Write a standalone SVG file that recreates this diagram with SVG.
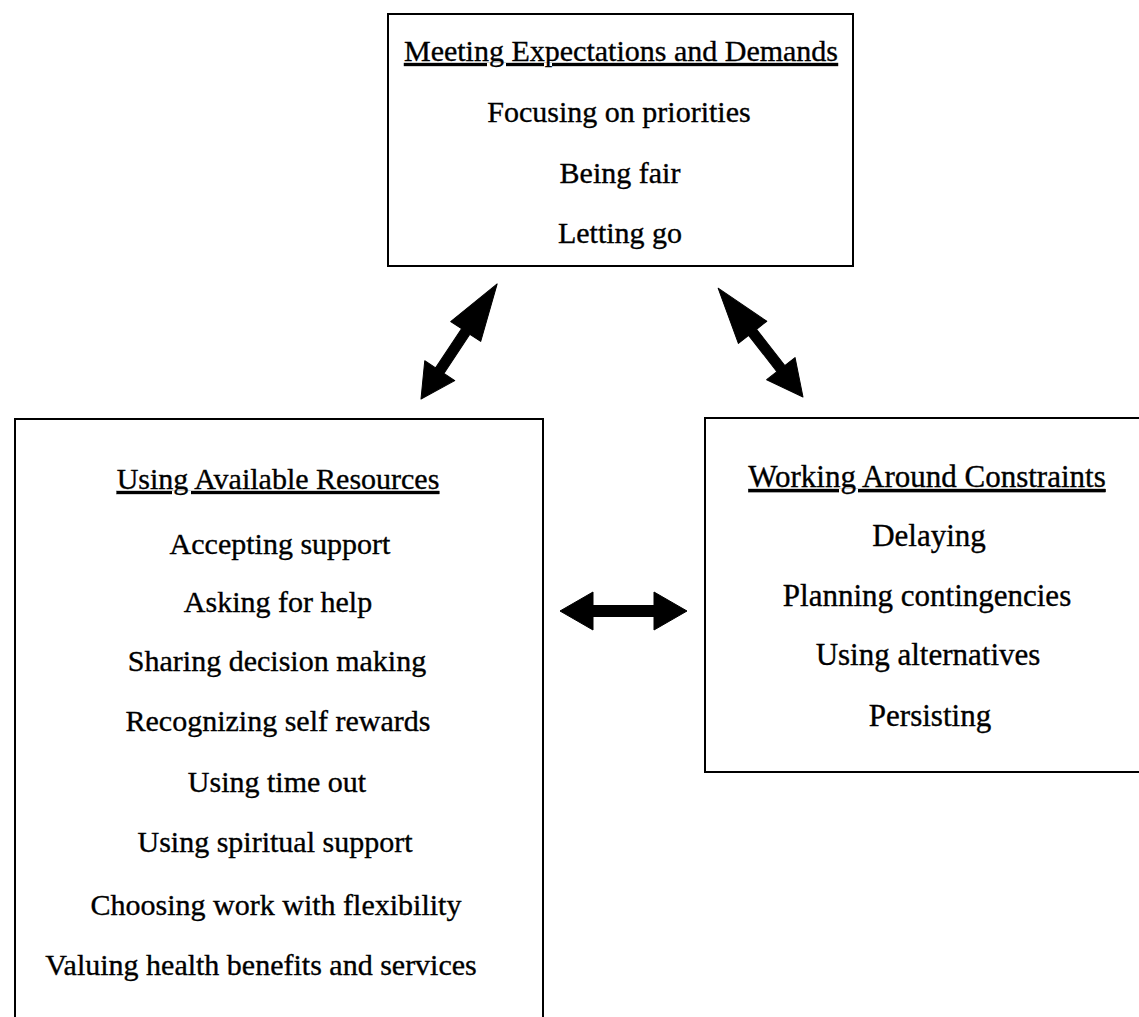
<svg xmlns="http://www.w3.org/2000/svg" width="1139" height="1017" viewBox="0 0 1139 1017">
<style>
.box{fill:#fff;stroke:#000;stroke-width:2}
text{font-family:"Liberation Serif","Times New Roman",serif;font-size:30px;fill:#000;stroke:#000;stroke-width:0.35;text-anchor:middle}
.r{font-size:31px}
.t{text-decoration:underline}
.arr{fill:#000;stroke:#000;stroke-width:1;stroke-linejoin:round}
</style>
<rect width="1139" height="1017" fill="#fff"/>
<g id="node-top">
<rect class="box" x="388" y="14" width="465" height="252"/>
<text class="t" x="621" y="61">Meeting Expectations and Demands</text>
<text x="619" y="122">Focusing on priorities</text>
<text x="620" y="183">Being fair</text>
<text x="620" y="243">Letting go</text>
</g>
<g id="node-left">
<rect class="box" x="15" y="419" width="528" height="620"/>
<text class="t" x="278" y="489">Using Available Resources</text>
<text x="280" y="554">Accepting support</text>
<text x="278" y="612">Asking for help</text>
<text x="277" y="671">Sharing decision making</text>
<text x="278" y="731">Recognizing self rewards</text>
<text x="277" y="792">Using time out</text>
<text x="275" y="852">Using spiritual support</text>
<text x="276" y="915">Choosing work with flexibility</text>
<text x="261" y="975">Valuing health benefits and services</text>
</g>
<g id="node-right">
<rect class="box" x="705" y="418" width="460" height="354"/>
<text class="t r" x="927" y="487">Working Around Constraints</text>
<text class="r" x="929" y="546">Delaying</text>
<text class="r" x="927" y="606">Planning contingencies</text>
<text class="r" x="928" y="665">Using alternatives</text>
<text class="r" x="930" y="726">Persisting</text>
</g>
<g id="connectors">
<polygon class="arr" transform="translate(421,399) rotate(-56.5)" points="0,0 34,-18 34,-5 81,-5 81,-18 138,0 81,18 81,5 34,5 34,18"/>
<polygon class="arr" transform="translate(803,397) rotate(-127.95)" points="0,0 36,-18 36,-5 82,-5 82,-18 138,0 82,18 82,5 36,5 36,18"/>
<polygon class="arr" transform="translate(560,611)" points="0,0 33,-19 33,-5.5 94,-5.5 94,-19 127,0 94,19 94,5.5 33,5.5 33,19"/>
</g>
</svg>
